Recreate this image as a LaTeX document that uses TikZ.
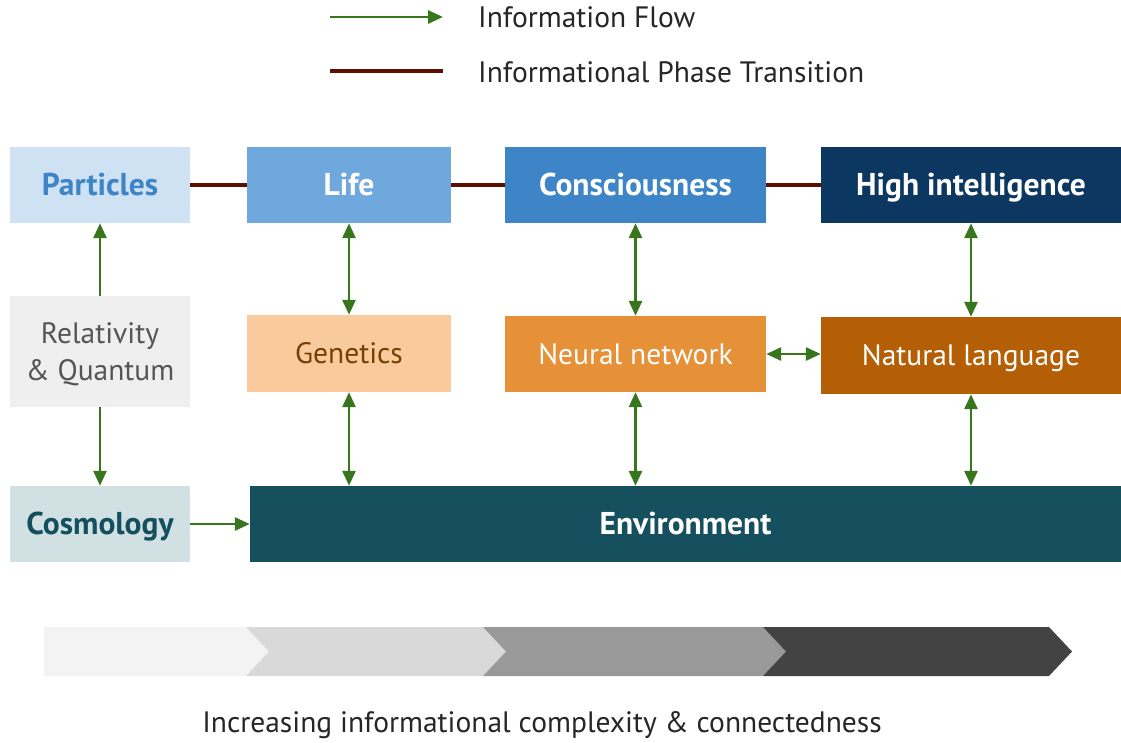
\documentclass[tikz,border=0pt]{standalone}
\usepackage{fontspec}
\setmainfont{PT Sans}
\usetikzlibrary{arrows.meta}

\definecolor{flowgreen}{HTML}{38761D}
\definecolor{phasebrown}{HTML}{5B0F00}
\definecolor{partfill}{HTML}{CFE2F3}
\definecolor{parttext}{HTML}{3D85C6}
\definecolor{lifefill}{HTML}{6FA8DC}
\definecolor{consfill}{HTML}{3D85C6}
\definecolor{highfill}{HTML}{0B3761}
\definecolor{relfill}{HTML}{EFEFEF}
\definecolor{reltext}{HTML}{555555}
\definecolor{genfill}{HTML}{F9CB9C}
\definecolor{gentext}{HTML}{783F04}
\definecolor{neurfill}{HTML}{E69138}
\definecolor{natfill}{HTML}{B45F06}
\definecolor{cosfill}{HTML}{D0E0E3}
\definecolor{costext}{HTML}{134F5C}
\definecolor{envfill}{HTML}{164F5D}
\definecolor{bar1}{HTML}{F3F3F3}
\definecolor{bar2}{HTML}{D9D9D9}
\definecolor{bar3}{HTML}{999999}
\definecolor{bar4}{HTML}{434343}

\tikzset{
  card/.style={draw=none, inner sep=0pt, align=center,
    text height=20.6pt, text depth=0pt,
    font=\fontsize{29.5}{37}\selectfont},
  boldcard/.style={card, text height=21.7pt,
    font=\fontsize{31.5}{37}\selectfont\bfseries},
  tip/.tip={Triangle[length=15pt,width=13pt]},
  flow/.style={draw=flowgreen, line width=2.8pt, -tip},
  flowboth/.style={draw=flowgreen, line width=2.8pt, tip-tip},
  phase/.style={draw=phasebrown, line width=4pt},
  plaintext/.style={inner sep=0pt, text height=20.6pt, text depth=0pt,
    font=\fontsize{29.5}{37}\selectfont, text=black!85},
  legendtext/.style={plaintext, anchor=west},
}

\begin{document}
\begin{tikzpicture}[x=1pt, y=-1pt]
\useasboundingbox (0,0) rectangle (1121,742);

% legend
\coordinate (lgA) at (330,17);
\coordinate (lgB) at (443,17);
\coordinate (lpA) at (330,71);
\coordinate (lpB) at (443,71);
\draw[flow] (lgA) -- (lgB);
\draw[phase] (lpA) -- (lpB);
\node[legendtext] (lgT) at (478,17) {Information Flow};
\node[legendtext] (lpT) at (478,72) {Informational Phase Transition};

% top row
\node[boldcard, fill=partfill, text=parttext, minimum width=180pt, minimum height=76pt]
  (particles) at (100,185) {Particles};
\node[boldcard, fill=lifefill, text=white, minimum width=204pt, minimum height=76pt]
  (life) at (349,185) {Life};
\node[boldcard, fill=consfill, text=white, minimum width=261pt, minimum height=76pt]
  (cons) at (635.5,185) {Consciousness};
\node[boldcard, fill=highfill, text=white, minimum width=300pt, minimum height=76pt]
  (high) at (971,185) {High intelligence};

% middle row (two-line label kept slightly low in its box)
\node[card, text height=, text depth=-3pt, fill=relfill, text=reltext,
  minimum width=180pt, minimum height=111pt]
  (rel) at (100,351.5) {Relativity\\\& Quantum};
\node[card, fill=genfill, text=gentext, minimum width=204pt, minimum height=77pt]
  (gen) at (349,353.5) {Genetics};
\node[card, fill=neurfill, text=white, minimum width=261pt, minimum height=76pt]
  (neur) at (635.5,354) {Neural network};
\node[card, fill=natfill, text=white, minimum width=300pt, minimum height=77pt]
  (nat) at (971,355.5) {Natural language};

% bottom row
\node[boldcard, fill=cosfill, text=costext, minimum width=180pt, minimum height=76pt]
  (cosmo) at (100,524) {Cosmology};
\node[boldcard, fill=envfill, text=white, minimum width=871pt, minimum height=76pt]
  (env) at (685.5,524) {Environment};

% phase transitions
\draw[phase] (particles.east) -- (life.west);
\draw[phase] (life.east) -- (cons.west);
\draw[phase] (cons.east) -- (high.west);

% information flow
\draw[flow] (rel.north) -- (particles.south);
\draw[flow] (rel.south) -- (cosmo.north);
\draw[flow] (cosmo.east) -- (env.west);
\draw[flowboth] (life.south) -- (gen.north);
\draw[flowboth] (gen.south) -- (gen.south |- env.north);
\draw[flowboth] (cons.south) -- (neur.north);
\draw[flowboth] (neur.south) -- (neur.south |- env.north);
\draw[flowboth] (neur.east) -- (neur.east -| nat.west);
\draw[flowboth] (high.south) -- (nat.north);
\draw[flowboth] (nat.south) -- (nat.south |- env.north);

% complexity bar
\fill[bar1] (44,627) -- (246,627) -- (269,651.5) -- (246,676) -- (44,676) -- cycle;
\fill[bar2] (246,627) -- (483,627) -- (506,651.5) -- (483,676) -- (246,676) -- (269,651.5) -- cycle;
\fill[bar3] (483,627) -- (763,627) -- (786,651.5) -- (763,676) -- (483,676) -- (506,651.5) -- cycle;
\fill[bar4] (763,627) -- (1049,627) -- (1072,651.5) -- (1049,676) -- (763,676) -- (786,651.5) -- cycle;

\node[plaintext] (caption) at (542,722) {Increasing informational complexity \& connectedness};
\end{tikzpicture}
\end{document}
